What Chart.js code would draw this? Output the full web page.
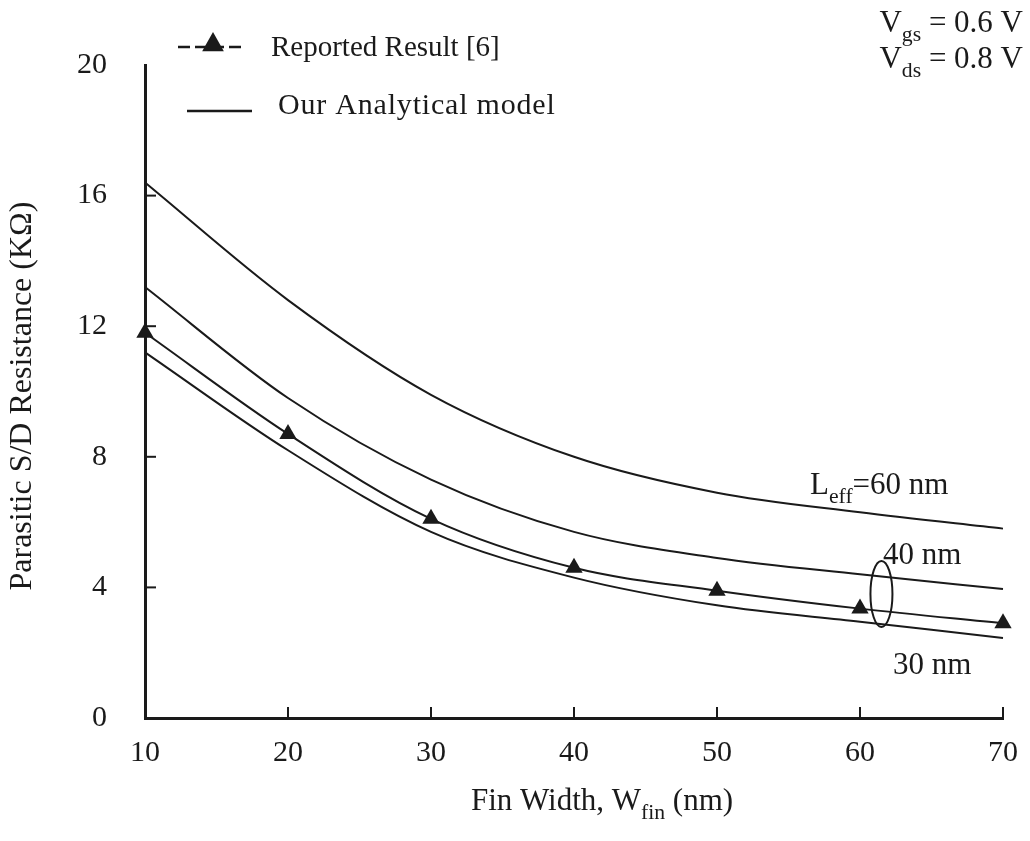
<!DOCTYPE html>
<html>
<head>
<meta charset="utf-8">
<script src="https://cdn.jsdelivr.net/npm/chart.js@4.4.1/dist/chart.umd.min.js"></script>
<style>
  html, body { margin: 0; padding: 0; background: #fff; }
  #wrap { width: 1030px; height: 841px; position: relative; }
</style>
</head>
<body>
<div id="wrap"><canvas id="resChart"></canvas></div>
<script>
// fin width (nm)
const finWidth = [10, 20, 30, 40, 50, 60, 70];
// analytical model, Leff = 60 / 40 / 30 nm (kOhm)
const model60 = [16.4, 12.8, 9.9, 8.0, 6.9, 6.3, 5.8];
const model40 = [13.2, 9.8, 7.3, 5.7, 4.9, 4.4, 3.95];
const model30 = [11.2, 8.2, 5.7, 4.3, 3.45, 2.95, 2.45];
// reported result [6]
const reported = [11.8, 8.7, 6.1, 4.6, 3.9, 3.35, 2.9];
const yTicks = [0, 4, 8, 12, 16, 20];
const xTicks = [10, 20, 30, 40, 50, 60, 70];

const FONT = '"Liberation Serif", "DejaVu Serif", serif';
const INK = '#1a1a1a';

function pts(ys) {
    return finWidth.map(function (x, i) { return { x: x, y: ys[i] }; });
}

// draws text made of normal + subscript parts
function richText(ctx, parts, x, y, size, align) {
    ctx.save();
    ctx.textBaseline = 'alphabetic';
    ctx.textAlign = 'left';
    let w = 0;
    parts.forEach(function (p) {
        ctx.font = (p.sub ? size * 0.7 : size) + 'px ' + FONT;
        w += ctx.measureText(p.t).width;
    });
    let cx = align === 'right' ? x - w : (align === 'center' ? x - w / 2 : x);
    parts.forEach(function (p) {
        ctx.font = (p.sub ? size * 0.7 : size) + 'px ' + FONT;
        ctx.fillText(p.t, cx, p.sub ? y + size * 0.3 : y);
        cx += ctx.measureText(p.t).width;
    });
    ctx.restore();
}

function triangle(ctx, x, y, r) {
    ctx.beginPath();
    ctx.moveTo(x, y - r);
    ctx.lineTo(x + r * 0.9, y + r * 0.6);
    ctx.lineTo(x - r * 0.9, y + r * 0.6);
    ctx.closePath();
    ctx.fill();
}

const decorPlugin = {
    id: 'decor',
    afterDraw: function (chart) {
        const ctx = chart.ctx;
        const xs = chart.scales.x;
        const ys = chart.scales.y;
        const x0 = xs.left;
        const y0 = ys.bottom;
        ctx.save();
        ctx.strokeStyle = INK;
        ctx.fillStyle = INK;

        // inward ticks
        ctx.lineWidth = 2;
        [4, 8, 12, 16].forEach(function (v) {
            const py = ys.getPixelForValue(v);
            ctx.beginPath(); ctx.moveTo(x0, py); ctx.lineTo(x0 + 11, py); ctx.stroke();
        });
        [20, 30, 40, 50, 60, 70].forEach(function (v) {
            const px = xs.getPixelForValue(v);
            ctx.beginPath(); ctx.moveTo(px, y0); ctx.lineTo(px, y0 - 11); ctx.stroke();
        });

        // legend
        ctx.lineWidth = 2.4;
        ctx.setLineDash([12, 5]);
        ctx.beginPath(); ctx.moveTo(178, 47); ctx.lineTo(244, 47); ctx.stroke();
        ctx.setLineDash([]);
        triangle(ctx, 213, 44, 12);
        ctx.font = '29px ' + FONT;
        ctx.textBaseline = 'middle';
        ctx.fillText('Reported Result [6]', 271, 48);
        ctx.font = '30px ' + FONT;
        ctx.letterSpacing = '0.8px';
        ctx.fillText('Our Analytical model', 278, 106);
        ctx.letterSpacing = '0px';
        ctx.beginPath(); ctx.moveTo(187, 111); ctx.lineTo(252, 111); ctx.stroke();

        // bias conditions
        richText(ctx, [{ t: 'V' }, { t: 'gs', sub: true }, { t: ' = 0.6 V' }], 1023, 32, 31, 'right');
        richText(ctx, [{ t: 'V' }, { t: 'ds', sub: true }, { t: ' = 0.8 V' }], 1023, 68, 31, 'right');

        // curve labels
        richText(ctx, [{ t: 'L' }, { t: 'eff', sub: true }, { t: '=60 nm' }], 810, 494, 31, 'left');
        richText(ctx, [{ t: '40 nm' }], 883, 564, 31, 'left');
        richText(ctx, [{ t: '30 nm' }], 893, 674, 31, 'left');

        // ellipse around the 30 nm pair
        const ex = xs.getPixelForValue(61.5);
        const ey = ys.getPixelForValue(3.8);
        ctx.lineWidth = 2;
        ctx.beginPath();
        ctx.ellipse(ex, ey, 11, 33, 0, 0, Math.PI * 2);
        ctx.stroke();

        // axis titles
        richText(ctx, [{ t: 'Fin Width, W' }, { t: 'fin', sub: true }, { t: ' (nm)' }], 602, 810, 31, 'center');
        ctx.translate(23, 396);
        ctx.rotate(-Math.PI / 2);
        ctx.font = '32px ' + FONT;
        ctx.textAlign = 'center';
        ctx.textBaseline = 'middle';
        ctx.fillText('Parasitic S/D Resistance (K\u03A9)', 0, 0);
        ctx.restore();
    }
};

function line(data, withPoints) {
    return {
        data: pts(data),
        borderColor: INK,
        backgroundColor: INK,
        borderWidth: 2,
        cubicInterpolationMode: 'monotone',
        pointStyle: 'triangle',
        pointRadius: withPoints ? 10 : 0,
        pointHoverRadius: withPoints ? 10 : 0,
        pointBorderWidth: 0,
        clip: false
    };
}

new Chart(document.getElementById('resChart'), {
    type: 'line',
    data: {
        datasets: [
            line(model60, false),
            line(model40, false),
            line(reported, true),
            line(model30, false)
        ]
    },
    options: {
        responsive: true,
        maintainAspectRatio: false,
        animation: false,
        layout: { padding: { top: 65, right: 27, left: 0, bottom: 0 } },
        plugins: { legend: { display: false }, tooltip: { enabled: false } },
        scales: {
            x: {
                type: 'linear',
                min: 10, max: 70,
                afterFit: function (s) { s.height = 123; s.paddingLeft = 0; s.paddingRight = 0; },
                afterBuildTicks: function (s) { s.ticks = xTicks.map(function (v) { return { value: v }; }); },
                grid: { display: false, drawTicks: false },
                border: { display: true, color: INK, width: 3 },
                ticks: { color: INK, padding: 17, font: { family: FONT, size: 30 }, maxRotation: 0 }
            },
            y: {
                min: 0, max: 20,
                afterFit: function (s) { s.width = 145; s.paddingTop = 0; s.paddingBottom = 0; },
                afterBuildTicks: function (s) { s.ticks = yTicks.map(function (v) { return { value: v }; }); },
                grid: { display: false, drawTicks: false },
                border: { display: true, color: INK, width: 3 },
                ticks: { color: INK, padding: 38, font: { family: FONT, size: 30 } }
            }
        }
    },
    plugins: [decorPlugin]
});
</script>
</body>
</html>
